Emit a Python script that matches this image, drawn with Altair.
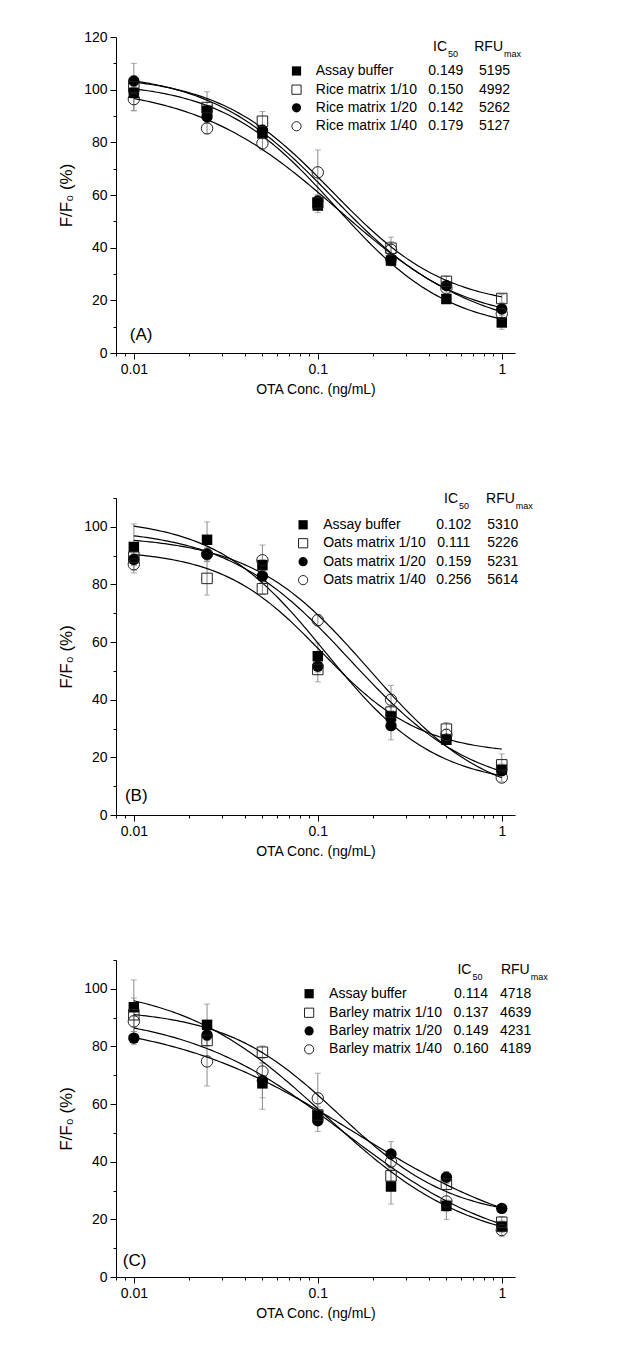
import altair as alt
import numpy as np
import pandas as pd

FONT = "Liberation Sans"

# ---------------- shared values ----------------
CONC = [0.01, 0.025, 0.05, 0.1, 0.25, 0.5, 1.0]
X_TICKS = [0.008, 0.009, 0.01, 0.02, 0.03, 0.04, 0.05, 0.06, 0.07, 0.08, 0.09,
           0.1, 0.2, 0.3, 0.4, 0.5, 0.6, 0.7, 0.8, 0.9, 1.0]
X_LABELS = ["0.01", "0.1", "1"]
SHAPES = ["square", "square", "circle", "circle"]
FILLED = [True, False, True, False]

# ---------------- panel A : rice ----------------
A_NAMES = ["Assay buffer", "Rice matrix 1/10", "Rice matrix 1/20", "Rice matrix 1/40"]
A_IC50 = ["0.149", "0.150", "0.142", "0.179"]
A_RFU = ["5195", "4992", "5262", "5127"]
A_BUFFER = [98.8, 92.0, 83.4, 56.0, 35.1, 20.5, 11.6]
A_M10 = [101.0, 93.2, 88.0, 57.0, 39.8, 27.2, 20.7]
A_M20 = [103.3, 89.7, 84.6, 57.7, 35.4, 25.6, 16.7]
A_M40 = [96.4, 85.3, 79.6, 68.6, 39.2, 24.6, 14.9]
A_BUFFER_SD = [2.0, 2.0, 2.0, 2.7, 2.0, 1.5, 2.6]
A_M10_SD = [9.0, 6.0, 3.7, 2.0, 2.5, 2.0, 1.5]
A_M20_SD = [2.0, 2.5, 2.0, 2.0, 2.0, 1.5, 1.5]
A_M40_SD = [4.4, 2.0, 2.5, 8.5, 4.8, 1.5, 1.5]
# fitted logistic curves (top, bottom, midpoint, slope)
A_TOP = [103.0, 105.5, 107.0, 102.0]
A_BOTTOM = [8.0, 17.0, 11.5, 6.5]
A_MID = [0.125, 0.12, 0.12, 0.13]
A_SLOPE = [1.4, 1.4, 1.3, 1.1]

# ---------------- panel B : oats ----------------
B_NAMES = ["Assay buffer", "Oats matrix 1/10", "Oats matrix 1/20", "Oats matrix 1/40"]
B_IC50 = ["0.102", "0.111", "0.159", "0.256"]
B_RFU = ["5310", "5226", "5231", "5614"]
B_BUFFER = [93.0, 95.5, 86.7, 55.1, 34.2, 26.1, 15.7]
B_M10 = [89.5, 82.1, 78.5, 50.5, 35.7, 29.8, 17.4]
B_M20 = [88.7, 90.5, 82.9, 51.6, 31.0, 26.3, 15.4]
B_M40 = [87.0, 90.5, 88.4, 67.6, 40.0, 27.8, 13.0]
B_BUFFER_SD = [8.0, 6.2, 2.0, 4.6, 2.0, 1.5, 2.0]
B_M10_SD = [3.0, 5.8, 2.0, 4.3, 2.0, 2.3, 3.8]
B_M20_SD = [2.0, 2.0, 2.0, 2.0, 4.9, 1.5, 1.5]
B_M40_SD = [3.0, 2.5, 5.3, 2.0, 5.0, 2.0, 1.5]
B_TOP = [103.0, 92.0, 99.5, 97.0]
B_BOTTOM = [10.0, 21.0, 8.0, 4.0]
B_MID = [0.11, 0.105, 0.15, 0.19]
B_SLOPE = [1.45, 1.6, 1.3, 1.35]

# ---------------- panel C : barley ----------------
C_NAMES = ["Assay buffer", "Barley matrix 1/10", "Barley matrix 1/20", "Barley matrix 1/40"]
C_IC50 = ["0.114", "0.137", "0.149", "0.160"]
C_RFU = ["4718", "4639", "4231", "4189"]
C_BUFFER = [93.6, 87.5, 67.2, 56.0, 31.4, 24.7, 17.5]
C_M10 = [91.0, 82.1, 78.0, 56.2, 35.1, 32.2, 19.0]
C_M20 = [82.9, 84.0, 68.2, 54.2, 42.7, 34.6, 23.8]
C_M40 = [88.7, 74.8, 71.3, 62.0, 40.0, 26.2, 16.3]
C_BUFFER_SD = [9.5, 7.2, 9.0, 3.0, 6.1, 2.0, 2.0]
C_M10_SD = [5.8, 2.0, 2.2, 2.0, 2.0, 2.0, 2.0]
C_M20_SD = [2.3, 2.0, 6.0, 3.7, 4.3, 2.0, 1.5]
C_M40_SD = [2.0, 8.5, 3.0, 8.7, 2.0, 6.2, 2.3]
C_TOP = [102.0, 93.0, 90.0, 92.0]
C_BOTTOM = [10.0, 20.0, 10.0, 8.0]
C_MID = [0.11, 0.13, 0.16, 0.14]
C_SLOPE = [1.1, 1.4, 0.85, 1.0]

# ---------------- layout (in data coordinates of each panel) ----------------
LAYOUT = {
    "A": dict(ymax=120, height=316, mx=0.0766, nx=0.0975, icx=0.496, rfx=0.913,
              ich=0.504, rfh=1.016, hy=116.3, rows=[107.1, 100.0, 93.1, 86.1],
              lx=0.0095, ly=6.8),
    "B": dict(ymax=110, height=317, mx=0.0832, nx=0.1069, icx=0.548, rfx=1.0126,
              ich=0.579, rfh=1.177, hy=109.8, rows=[100.7, 94.3, 87.9, 81.5],
              lx=0.00894, ly=6.6),
    "C": dict(ymax=110, height=317, mx=0.0897, nx=0.1152, icx=0.681, rfx=1.189,
              ich=0.684, rfh=1.419, hy=106.6, rows=[98.3, 91.7, 85.4, 79.0],
              lx=0.00871, ly=5.6),
}

X_TEST_MAJOR = "indexof([0.01, 0.1, 1], datum.value) >= 0"


def build_panel(letter, names, means, sds, top, bottom, mid, slope, ic50, rfu):
    lay = LAYOUT[letter]
    ymax = lay["ymax"]
    xscale = alt.Scale(type="log", domain=[0.008, 1.18], nice=False)
    yscale = alt.Scale(domain=[0, ymax], nice=False, zero=False)
    xaxis = alt.Axis(
        values=X_TICKS,
        labelExpr="datum.value == 0.01 ? '0.01' : datum.value == 0.1 ? '0.1' : datum.value == 1 ? '1' : ''",
        tickSize={"condition": {"test": X_TEST_MAJOR, "value": 6}, "value": 3},
        title="OTA Conc. (ng/mL)", grid=False, labelPadding=3, titlePadding=6,
        labelFlush=False, labelOverlap=False,
    )
    yaxis = alt.Axis(
        values=list(range(0, ymax + 1, 10)),
        labelExpr="datum.value % 20 === 0 ? datum.label : ''",
        tickSize={"condition": {"test": "datum.value % 20 === 0", "value": 6}, "value": 3},
        title="F/F₀ (%)", titleFontSize=17, grid=False, labelPadding=3, titlePadding=8,
        labelFlush=False, labelOverlap=False,
    )

    def X(f="x"):
        return alt.X(f"{f}:Q", scale=xscale, axis=xaxis)

    def Y(f="y"):
        return alt.Y(f"{f}:Q", scale=yscale, axis=yaxis)

    rows = []
    for i, name in enumerate(names):
        for c, m, s in zip(CONC, means[i], sds[i]):
            rows.append(dict(x=c, y=m, lo=m - s, hi=m + s, series=name,
                             shape=SHAPES[i], filled=FILLED[i]))
    pts = pd.DataFrame(rows)

    grid = np.logspace(-2, 0, 120)
    crows = []
    for i, name in enumerate(names):
        for g in grid:
            v = bottom[i] + (top[i] - bottom[i]) / (1.0 + (g / mid[i]) ** slope[i])
            crows.append(dict(x=float(g), y=float(v), series=name))
    crv = pd.DataFrame(crows)

    leg_mk = pd.DataFrame(dict(x=[lay["mx"]] * 4, y=lay["rows"], shape=SHAPES, filled=FILLED))
    leg_nm = pd.DataFrame(dict(x=[lay["nx"]] * 4, y=lay["rows"], t=names))
    leg_ic = pd.DataFrame(dict(x=[lay["icx"]] * 4, y=lay["rows"], t=ic50))
    leg_rf = pd.DataFrame(dict(x=[lay["rfx"]] * 4, y=lay["rows"], t=rfu))
    head_main = pd.DataFrame(dict(x=[lay["ich"], lay["rfh"]], y=[lay["hy"]] * 2, t=["IC", "RFU"]))
    head_sub = pd.DataFrame(dict(x=[lay["ich"], lay["rfh"]], y=[lay["hy"]] * 2, t=["50", "max"]))
    lab = pd.DataFrame(dict(x=[lay["lx"]], y=[lay["ly"]], t=[f"({letter})"]))

    size_enc = alt.condition("datum.shape == 'square'", alt.value(110), alt.value(130))

    err = alt.Chart(pts).mark_rule(color="#8a8a8a", strokeWidth=1).encode(
        x=X(), y=Y("lo"), y2="hi")
    cap_lo = alt.Chart(pts).mark_tick(color="#8a8a8a", thickness=1, size=6,
                                      orient="horizontal").encode(x=X(), y=Y("lo"))
    cap_hi = alt.Chart(pts).mark_tick(color="#8a8a8a", thickness=1, size=6,
                                      orient="horizontal").encode(x=X(), y=Y("hi"))
    lines = alt.Chart(crv).mark_line(color="black", strokeWidth=1.2).encode(
        x=X(), y=Y(), detail="series:N", order="x:Q")
    filled_pts = alt.Chart(pts[pts["filled"]]).mark_point(
        filled=True, color="black", opacity=1).encode(
        x=X(), y=Y(), shape=alt.Shape("shape:N", scale=None), size=size_enc)
    open_pts = alt.Chart(pts[~pts["filled"]]).mark_point(
        filled=False, color="#222222", opacity=1, strokeWidth=1).encode(
        x=X(), y=Y(), shape=alt.Shape("shape:N", scale=None), size=size_enc)
    leg_f = alt.Chart(leg_mk[leg_mk["filled"]]).mark_point(
        filled=True, color="black", opacity=1).encode(
        x=X(), y=Y(), shape=alt.Shape("shape:N", scale=None), size=alt.value(85))
    leg_o = alt.Chart(leg_mk[~leg_mk["filled"]]).mark_point(
        filled=False, color="#222222", opacity=1, strokeWidth=1).encode(
        x=X(), y=Y(), shape=alt.Shape("shape:N", scale=None), size=alt.value(85))
    txt = dict(font=FONT, fontSize=14, color="black", baseline="middle")
    t_nm = alt.Chart(leg_nm).mark_text(align="left", **txt).encode(x=X(), y=Y(), text="t:N")
    t_ic = alt.Chart(leg_ic).mark_text(align="center", **txt).encode(x=X(), y=Y(), text="t:N")
    t_rf = alt.Chart(leg_rf).mark_text(align="center", **txt).encode(x=X(), y=Y(), text="t:N")
    t_hm = alt.Chart(head_main).mark_text(align="right", **txt).encode(x=X(), y=Y(), text="t:N")
    t_hs = alt.Chart(head_sub).mark_text(align="left", dx=1, dy=7, font=FONT, fontSize=9,
                                         color="black", baseline="middle").encode(
        x=X(), y=Y(), text="t:N")
    t_lab = alt.Chart(lab).mark_text(align="left", baseline="middle", font=FONT,
                                     fontSize=17, color="black").encode(
        x=X(), y=Y(), text="t:N")

    return alt.layer(err, cap_lo, cap_hi, lines, filled_pts, open_pts, leg_f, leg_o,
                     t_nm, t_ic, t_rf, t_hm, t_hs, t_lab).properties(
        width=399, height=lay["height"])


pA = build_panel("A", A_NAMES, [A_BUFFER, A_M10, A_M20, A_M40],
                 [A_BUFFER_SD, A_M10_SD, A_M20_SD, A_M40_SD],
                 A_TOP, A_BOTTOM, A_MID, A_SLOPE, A_IC50, A_RFU)
pB = build_panel("B", B_NAMES, [B_BUFFER, B_M10, B_M20, B_M40],
                 [B_BUFFER_SD, B_M10_SD, B_M20_SD, B_M40_SD],
                 B_TOP, B_BOTTOM, B_MID, B_SLOPE, B_IC50, B_RFU)
pC = build_panel("C", C_NAMES, [C_BUFFER, C_M10, C_M20, C_M40],
                 [C_BUFFER_SD, C_M10_SD, C_M20_SD, C_M40_SD],
                 C_TOP, C_BOTTOM, C_MID, C_SLOPE, C_IC50, C_RFU)

chart = alt.vconcat(pA, pB, pC, spacing=95).properties(
    padding={"left": 49, "top": 22, "right": 5, "bottom": 5},
    background="white",
).configure_view(stroke=None).configure_axis(
    labelFont=FONT, labelFontSize=14, labelColor="black",
    titleFont=FONT, titleFontSize=14, titleFontWeight="normal", titleColor="black",
    domainColor="black", domainWidth=1, tickColor="black", tickWidth=1,
)

chart.save("out.html", embed_options={"renderer": "svg", "actions": False})
